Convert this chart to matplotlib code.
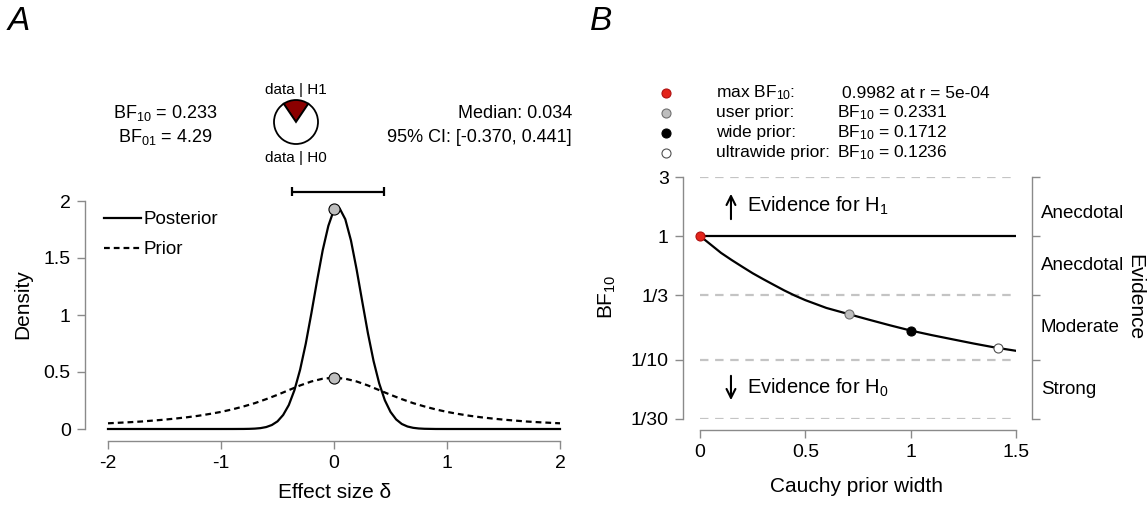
import matplotlib
matplotlib.use("Agg")
import matplotlib.pyplot as plt
from matplotlib.ticker import NullLocator

plt.rcParams['font.family'] = ['Liberation Sans', 'DejaVu Sans']
plt.rcParams['mathtext.fontset'] = 'custom'
plt.rcParams['mathtext.rm'] = 'Liberation Sans'
plt.rcParams['mathtext.it'] = 'Liberation Sans:italic'
plt.rcParams['mathtext.default'] = 'regular'
plt.rcParams['axes.unicode_minus'] = False

# --- DATA: panel A (prior / posterior of effect size) ---
prior_x = [-2.0, -1.9, -1.8, -1.7, -1.6, -1.5, -1.4, -1.3, -1.2, -1.1, -1.0,
           -0.9, -0.8, -0.7, -0.6, -0.5, -0.4, -0.3, -0.2, -0.1, 0.0,
           0.1, 0.2, 0.3, 0.4, 0.5, 0.6, 0.7, 0.8, 0.9, 1.0,
           1.1, 1.2, 1.3, 1.4, 1.5, 1.6, 1.7, 1.8, 1.9, 2.0]
prior_y = [0.050, 0.055, 0.060, 0.066, 0.074, 0.082, 0.092, 0.103, 0.116, 0.132, 0.150,
           0.172, 0.198, 0.227, 0.262, 0.300, 0.341, 0.382, 0.417, 0.441, 0.450,
           0.441, 0.417, 0.382, 0.341, 0.300, 0.262, 0.227, 0.198, 0.172, 0.150,
           0.132, 0.116, 0.103, 0.092, 0.082, 0.074, 0.066, 0.060, 0.055, 0.050]

post_x = [-2.0, -1.5, -1.0, -0.9,
          -0.8, -0.75, -0.7, -0.65, -0.6, -0.55, -0.5, -0.45, -0.4, -0.35, -0.3,
          -0.25, -0.2, -0.15, -0.1, -0.05, 0.0, 0.05, 0.1, 0.15, 0.2, 0.25,
          0.3, 0.35, 0.4, 0.45, 0.5, 0.55, 0.6, 0.65, 0.7, 0.75, 0.8,
          0.9, 1.0, 1.5, 2.0]
post_y = [0.0, 0.0, 0.0, 0.0001,
          0.0005, 0.0014, 0.0034, 0.0078, 0.017, 0.035, 0.067, 0.123, 0.210, 0.341, 0.520,
          0.748, 1.016, 1.300, 1.568, 1.782, 1.925, 1.935, 1.840, 1.654, 1.400, 1.118,
          0.841, 0.597, 0.400, 0.252, 0.150, 0.084, 0.044, 0.022, 0.0104, 0.0046, 0.0019,
          0.0002, 0.0, 0.0, 0.0]

prior_at_0 = 0.45
post_at_0 = 1.93
bf10 = 0.233
bf01 = 4.29
median = 0.034
ci_lo, ci_hi = -0.370, 0.441

# --- DATA: panel B (robustness check) ---
r_grid = [0.0, 0.025, 0.05, 0.075, 0.1, 0.15, 0.2, 0.25, 0.3, 0.35, 0.4, 0.45,
          0.5, 0.6, 0.7, 0.8, 0.9, 1.0, 1.1, 1.2, 1.3, 1.4, 1.5]
bf_curve = [1.0, 0.925, 0.855, 0.79, 0.73, 0.64, 0.565, 0.50, 0.448, 0.403, 0.363, 0.33,
            0.303, 0.262, 0.235, 0.211, 0.19, 0.172, 0.158, 0.146, 0.135, 0.1255, 0.118]

point_names = ['max BF$_{10}$:', 'user prior:', 'wide prior:', 'ultrawide prior:']
point_r = [0.0005, 0.7071, 1.0, 1.4142]
point_bf = [0.9982, 0.2331, 0.1712, 0.1236]
point_text = ['0.9982 at r = 5e-04', 'BF$_{10}$ = 0.2331', 'BF$_{10}$ = 0.1712', 'BF$_{10}$ = 0.1236']
point_fill = ['#e3241b', '#bebebe', 'black', 'white']
point_edge = ['#b01010', '#707070', 'black', '#505050']

bf_ticks = [1/30, 1/10, 1/3, 1, 3]
bf_tick_labels = ['1/30', '1/10', '1/3', '1', '3']
evidence_labels = ['Anecdotal', 'Anecdotal', 'Moderate', 'Strong']
evidence_pos = [1.53, 0.577, 0.183, 0.0577]

# --- LAYOUT helpers (pixel -> figure fraction) ---
W, H = 1148, 508
fig = plt.figure(figsize=(W / 100, H / 100), dpi=100)
PT = 0.72  # points per pixel at dpi 100


def fx(px):
    return px / W


def fy(py):
    return 1 - py / H


GREY = '#8a8a8a'
TICK_FS = 14
LAB_FS = 15

# ================= Panel A =================
axA = fig.add_axes([fx(108), fy(429), fx(560) - fx(108), fy(201) - fy(429)])
axA.set_xlim(-2, 2)
axA.set_ylim(0, 2)
axA.plot(post_x, post_y, color='black', lw=1.6, label='Posterior', clip_on=False)
axA.plot(prior_x, prior_y, color='black', lw=1.6, ls=(0, (2.6, 1.8)), label='Prior', clip_on=False)
axA.plot([0, 0], [post_at_0, prior_at_0], 'o', ms=8, mfc='#bebebe', mec='black', mew=0.8,
         clip_on=False, zorder=5)

for s in ['top', 'right']:
    axA.spines[s].set_visible(False)
axA.spines['left'].set_position(('outward', 23 * PT))
axA.spines['bottom'].set_position(('outward', 12 * PT))
axA.spines['left'].set_bounds(0, 2)
axA.spines['bottom'].set_bounds(-2, 2)
for s in ['left', 'bottom']:
    axA.spines[s].set_color(GREY)
    axA.spines[s].set_linewidth(1.0)
axA.set_xticks([-2, -1, 0, 1, 2])
axA.set_xticklabels(['-2', '-1', '0', '1', '2'])
axA.set_yticks([0, 0.5, 1, 1.5, 2])
axA.set_yticklabels(['0', '0.5', '1', '1.5', '2'])
axA.tick_params(direction='out', length=8 * PT, width=1, color=GREY, labelsize=TICK_FS, pad=4.5)

axA.legend(loc='upper left', bbox_to_anchor=(fx(104), fy(211)), bbox_transform=fig.transFigure,
           frameon=False, fontsize=13.5, handlelength=1.95, handletextpad=0.15,
           labelspacing=0.7, borderpad=0, borderaxespad=0)

# credible interval bar above the plot
ci_y = 2.08
axA.hlines(ci_y, ci_lo, ci_hi, color='black', lw=1.6, clip_on=False)
axA.vlines([ci_lo, ci_hi], ci_y - 0.04, ci_y + 0.04, color='black', lw=1.6, clip_on=False)

fig.text(fx(23), fy(304), 'Density', rotation=90, ha='center', va='center', fontsize=LAB_FS)
fig.text(fx(335), fy(493), 'Effect size δ', ha='center', va='center', fontsize=LAB_FS)

fig.text(fx(165), fy(113), f'BF$_{{10}}$ = {bf10:.3f}', ha='center', va='center', fontsize=13)
fig.text(fx(165), fy(137), f'BF$_{{01}}$ = {bf01:.2f}', ha='center', va='center', fontsize=13)
fig.text(fx(572), fy(113), f'Median: {median:.3f}', ha='right', va='center', fontsize=13)
fig.text(fx(572), fy(137), f'95% CI: [{ci_lo:.3f}, {ci_hi:.3f}]', ha='right', va='center', fontsize=13)

# pie of BF: data | H1 vs data | H0 (pie uses +-1.25 limits, so widen the box)
PR = 22 * 1.25
axP = fig.add_axes([fx(296 - PR), fy(122 + PR), 2 * PR / W, 2 * PR / H])
p_h1 = bf10 / (1 + bf10)
axP.pie([p_h1, 1 - p_h1], colors=['#8b0000', 'white'], startangle=90 - p_h1 * 180,
        counterclock=True, wedgeprops=dict(edgecolor='black', linewidth=1.3))
fig.text(fx(296), fy(90), 'data | H1', ha='center', va='center', fontsize=11)
fig.text(fx(296), fy(158), 'data | H0', ha='center', va='center', fontsize=11)

fig.text(fx(19), fy(22), 'A', ha='center', va='center', fontsize=24, style='italic')

# ================= Panel B =================
axB = fig.add_axes([fx(700), fy(418.7), fx(1016) - fx(700), fy(177) - fy(418.7)])
axB.set_yscale('log')
axB.set_xlim(0, 1.5)
axB.set_ylim(1 / 30, 3)
for lvl in [3, 1 / 3, 1 / 10, 1 / 30]:
    axB.axhline(lvl, color='#c4c4c4', lw=1.6, ls=(0, (3.8, 3.0)), zorder=1)
axB.axhline(1, color='black', lw=1.6, zorder=2)
axB.plot(r_grid, bf_curve, color='black', lw=1.6, zorder=3)
for r, b, fc, ec in zip(point_r, point_bf, point_fill, point_edge):
    axB.plot(r, b, 'o', ms=6.5, mfc=fc, mec=ec, mew=0.8, zorder=5, clip_on=False)

axB.spines['top'].set_visible(False)
axB.spines['left'].set_position(('outward', 17 * PT))
axB.spines['right'].set_position(('outward', 16 * PT))
axB.spines['bottom'].set_position(('outward', 11.3 * PT))
axB.spines['left'].set_bounds(1 / 30, 3)
axB.spines['right'].set_bounds(1 / 30, 3)
axB.spines['bottom'].set_bounds(0, 1.5)
for s in ['left', 'right', 'bottom']:
    axB.spines[s].set_color(GREY)
    axB.spines[s].set_linewidth(1.0)
axB.set_xticks([0, 0.5, 1, 1.5])
axB.set_xticklabels(['0', '0.5', '1', '1.5'])
axB.set_yticks(bf_ticks)
axB.set_yticklabels(bf_tick_labels)
axB.yaxis.set_minor_locator(NullLocator())
axB.tick_params(direction='out', length=8 * PT, width=1, color=GREY, labelsize=TICK_FS, pad=4.5)
axB.tick_params(axis='y', right=True, labelright=False)

for lab, pos in zip(evidence_labels, evidence_pos):
    axB.text(1 + 25 / 316, pos, lab, transform=axB.get_yaxis_transform(),
             ha='left', va='center', fontsize=13.5)
fig.text(fx(1135), fy(297), 'Evidence', rotation=-90, ha='center', va='center', fontsize=LAB_FS)

axB.annotate('', xy=(0.147, 2.31), xytext=(0.147, 1.30),
             arrowprops=dict(arrowstyle='->', lw=1.5, color='black', mutation_scale=16))
axB.annotate('', xy=(0.147, 0.0447), xytext=(0.147, 0.078),
             arrowprops=dict(arrowstyle='->', lw=1.5, color='black', mutation_scale=16))
axB.text(0.223, 1.75, 'Evidence for H$_1$', ha='left', va='center', fontsize=14.5)
axB.text(0.223, 0.059, 'Evidence for H$_0$', ha='left', va='center', fontsize=14.5)

fig.text(fx(607), fy(297), 'BF$_{10}$', rotation=90, ha='center', va='center', fontsize=LAB_FS)
fig.text(fx(857), fy(487), 'Cauchy prior width', ha='center', va='center', fontsize=LAB_FS)

# legend of highlighted points
for i, (name, txt, fc, ec) in enumerate(zip(point_names, point_text, point_fill, point_edge)):
    yy = fy(93 + 20 * i)
    fig.lines.append(plt.Line2D([fx(666)], [yy], marker='o', ms=6.5, mfc=fc, mec=ec, mew=0.8,
                                transform=fig.transFigure))
    fig.text(fx(716), yy, name, ha='left', va='center', fontsize=12.5)
    fig.text(fx(842 if i == 0 else 837), yy, txt, ha='left', va='center', fontsize=12.5)

fig.text(fx(601), fy(22), 'B', ha='center', va='center', fontsize=24, style='italic')

fig.savefig('out.png', dpi=100)
